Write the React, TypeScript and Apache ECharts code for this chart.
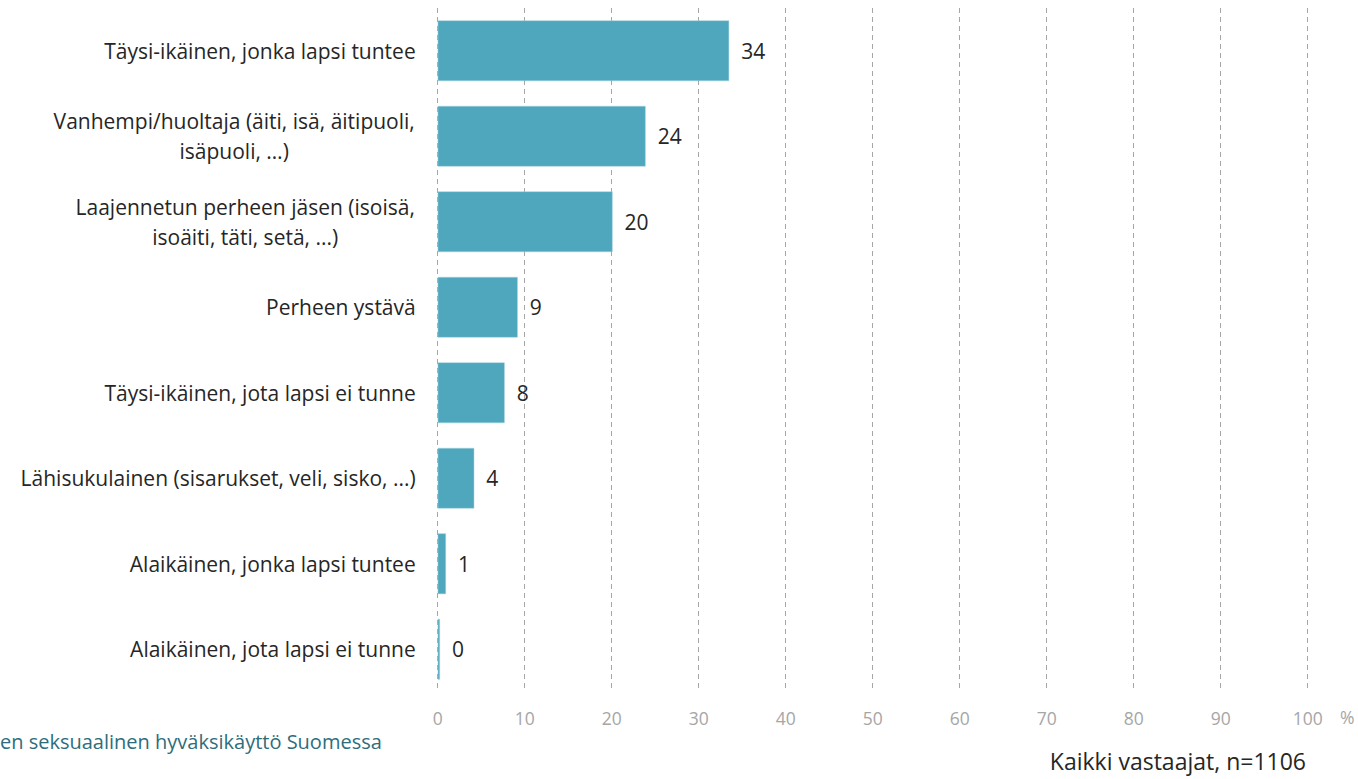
import React, { useEffect, useRef } from "react";
import * as echarts from "echarts";

const categories = [
  "Täysi-ikäinen, jonka lapsi tuntee",
  "Vanhempi/huoltaja (äiti, isä, äitipuoli,\nisäpuoli, …)",
  "Laajennetun perheen jäsen (isoisä,\nisoäiti, täti, setä, ...)",
  "Perheen ystävä",
  "Täysi-ikäinen, jota lapsi ei tunne",
  "Lähisukulainen (sisarukset, veli, sisko, ...)",
  "Alaikäinen, jonka lapsi tuntee",
  "Alaikäinen, jota lapsi ei tunne",
];
const values = [33.5, 23.9, 20.1, 9.2, 7.7, 4.2, 0.95, 0.26];
const xTicks = [0, 10, 20, 30, 40, 50, 60, 70, 80, 90, 100];
const footerLeft = "en seksuaalinen hyväksikäyttö Suomessa";
const footerRight = "Kaikki vastaajat, n=1106";
const unitLabel = "%";

const FONT = "Open Sans";
const LABEL_SIZE = 21;

export default function App() {
  const ref = useRef<HTMLDivElement>(null);
  useEffect(() => {
    document.body.style.margin = "0";
    const chart = echarts.init(ref.current!, null, { renderer: "svg" });
    const yCats = [...categories].reverse();
    const yVals = [...values].reverse();

    const ctx = document.createElement("canvas").getContext("2d")!;
    ctx.font = `${LABEL_SIZE}px "${FONT}"`;
    const rich: Record<string, any> = {};
    yCats.forEach((c, i) => {
      const lines = c.split("\n");
      if (lines.length > 1) {
        const w = Math.max(...lines.map((l) => ctx.measureText(l).width));
        rich[`c${i}`] = {
          fontFamily: FONT,
          fontSize: LABEL_SIZE,
          lineHeight: 30,
          color: "#262626",
          align: "center",
          width: Math.ceil(w) + 1,
        };
      }
    });

    chart.setOption({
      animation: false,
      grid: { left: 437.7, right: 50.3, top: 8, bottom: 87, containLabel: false },
      xAxis: {
        type: "value",
        min: 0,
        max: 100,
        interval: 10,
        axisLine: { show: false },
        axisTick: { show: false },
        axisLabel: {
          color: "#a6a6a6",
          fontFamily: FONT,
          fontSize: 17.5,
          margin: 17,
          formatter: (v: number) => (xTicks.includes(v) ? String(v) : ""),
        },
        splitLine: {
          show: true,
          lineStyle: { color: "#a6a6a6", type: [5, 4], width: 1 },
        },
      },
      yAxis: {
        type: "category",
        data: yCats,
        axisLine: { show: false },
        axisTick: { show: false },
        axisLabel: {
          margin: 22,
          color: "#262626",
          fontFamily: FONT,
          fontSize: LABEL_SIZE,
          lineHeight: 30,
          formatter: (v: string, idx: number) => {
            const lines = v.split("\n");
            if (lines.length === 1) return v;
            return lines.map((l) => `{c${idx}|${l}}`).join("\n");
          },
          rich,
        },
      },
      series: [
        {
          type: "bar",
          data: yVals,
          barWidth: "71%",
          itemStyle: { color: "#4ea7bd", borderColor: "#a9d4df", borderWidth: 0.5 },
          label: {
            show: true,
            position: "right",
            distance: 12,
            color: "#262626",
            fontFamily: FONT,
            fontSize: 21,
            formatter: (p: any) => String(Math.round(p.value)),
          },
        },
      ],
      graphic: [
        {
          type: "text",
          left: 1340,
          top: 708,
          style: { text: unitLabel, fill: "#a6a6a6", font: `17.5px "${FONT}"` },
        },
        {
          type: "text",
          left: 0,
          top: 731,
          style: { text: footerLeft, fill: "#2e6d7c", font: `20px "${FONT}"` },
        },
        {
          type: "text",
          right: 52,
          top: 749,
          style: { text: footerRight, fill: "#262626", font: `23px "${FONT}"` },
        },
      ],
    });
    return () => chart.dispose();
  }, []);
  return <div ref={ref} style={{ width: 1358, height: 779 }} />;
}
